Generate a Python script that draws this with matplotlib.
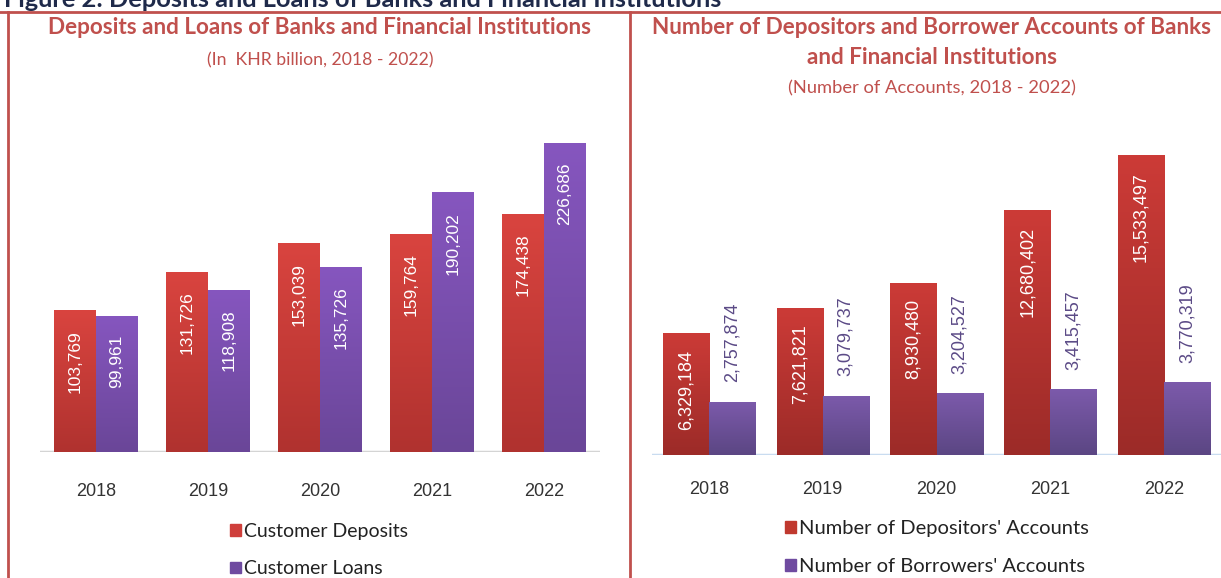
import numpy as np
import matplotlib
matplotlib.use('Agg')
import matplotlib.pyplot as plt
from matplotlib.colors import LinearSegmentedColormap
from matplotlib.patches import Patch
from matplotlib.lines import Line2D

# data
years = ['2018', '2019', '2020', '2021', '2022']
deposits = [103769, 131726, 153039, 159764, 174438]
loans = [99961, 118908, 135726, 190202, 226686]
dep_accounts = [6329184, 7621821, 8930480, 12680402, 15533497]
bor_accounts = [2757874, 3079737, 3204527, 3415457, 3770319]

W, H = 1221, 578
TITLE_RED = '#c0504d'
TITLE_FONT = ['Lato', 'DejaVu Sans']
NUM_FONT = ['Liberation Sans', 'DejaVu Sans']

fig = plt.figure(figsize=(W / 100, H / 100), dpi=100)


def px_axes(x0, y0, x1, y1):
    # pixel box (top-left origin) -> figure axes
    return fig.add_axes([x0 / W, 1 - y1 / H, (x1 - x0) / W, (y1 - y0) / H])


def ftext(x, y, s, **kw):
    fig.text(x / W, 1 - y / H, s, **kw)


def gradient_bars(ax, bars, top, bottom):
    cmap = LinearSegmentedColormap.from_list('g', [bottom, top])
    grad = np.linspace(0, 1, 256).reshape(-1, 1)
    for b in bars:
        x0, y0 = b.get_x(), b.get_y()
        im = ax.imshow(grad, extent=[x0, x0 + b.get_width(), y0, y0 + b.get_height()],
                       origin='lower', cmap=cmap, aspect='auto', zorder=2)
        im.set_clip_path(b)


def style_axes(ax, xlim, ylim, base_color, pad):
    ax.set_xlim(*xlim)
    ax.set_ylim(*ylim)
    for s in ax.spines.values():
        s.set_visible(False)
    ax.set_yticks([])
    ax.set_xticks(range(len(years)))
    ax.set_xticklabels(years, fontsize=13, color='#333333', family=NUM_FONT)
    ax.tick_params(axis='x', length=0, pad=pad)
    ax.axhline(0, color=base_color, lw=2.5, zorder=1)
    ax.patch.set_alpha(0)


x = np.arange(len(years))

# ---- left panel: deposits and loans
ax1 = px_axes(40, 100, 600, 452)
w1 = 0.375
b_dep = ax1.bar(x - w1 / 2, deposits, w1, color='#cf3f3b', zorder=2)
b_loan = ax1.bar(x + w1 / 2, loans, w1, color='#7a52ac', zorder=2)
gradient_bars(ax1, b_dep, '#d9443f', '#b0322f')
gradient_bars(ax1, b_loan, '#8656bf', '#6a4698')
style_axes(ax1, (-0.5, 4.5), (0, 258000), '#d4d4d4', 22)
for i in range(len(years)):
    ax1.annotate(f'{deposits[i]:,}', (x[i] - w1 / 2, deposits[i]), xytext=(0, -14),
                 textcoords='offset points', rotation=90, ha='center', va='top',
                 color='white', fontsize=12.5, family=NUM_FONT, zorder=3)
    ax1.annotate(f'{loans[i]:,}', (x[i] + w1 / 2, loans[i]), xytext=(0, -14),
                 textcoords='offset points', rotation=90, ha='center', va='top',
                 color='white', fontsize=12.5, family=NUM_FONT, zorder=3)

# ---- right panel: accounts
ax2 = px_axes(652, 100, 1221, 455)
w2 = 0.405
b_da = ax2.bar(x - w2 / 2, dep_accounts, w2, color='#b8342f', zorder=2)
b_ba = ax2.bar(x + w2 / 2, bor_accounts, w2, color='#6b4f9c', zorder=2)
gradient_bars(ax2, b_da, '#cc3b37', '#9c2b28')
gradient_bars(ax2, b_ba, '#7c5aab', '#5b4683')
style_axes(ax2, (-0.5, 4.5), (0, 18400000), '#c9dcf0', 19)
for i in range(len(years)):
    ax2.annotate(f'{dep_accounts[i]:,}', (x[i] - w2 / 2, dep_accounts[i]), xytext=(0, -12),
                 textcoords='offset points', rotation=90, ha='center', va='top',
                 color='white', fontsize=13, family=NUM_FONT, zorder=3)
    ax2.annotate(f'{bor_accounts[i]:,}', (x[i] + w2 / 2, bor_accounts[i]), xytext=(0, 14),
                 textcoords='offset points', rotation=90, ha='center', va='bottom',
                 color='#5b4a86', fontsize=13, family=NUM_FONT, zorder=3)

# ---- legends
leg_kw = dict(frameon=False, handlelength=0.55, handleheight=0.55, handletextpad=0.15,
              labelspacing=1.05, labelcolor='#222222', borderpad=0, borderaxespad=0)
fig.legend([Patch(color='#cf3f3b'), Patch(color='#6f4ba0')],
           ['Customer Deposits', 'Customer Loans'],
           loc='upper left', bbox_to_anchor=(230 / W, 1 - 523 / H),
           prop={'family': TITLE_FONT, 'size': 14}, **leg_kw)
fig.legend([Patch(color='#c0392f'), Patch(color='#6f4ba0')],
           ["Number of Depositors' Accounts", "Number of Borrowers' Accounts"],
           loc='upper left', bbox_to_anchor=(785 / W, 1 - 520 / H),
           prop={'family': TITLE_FONT, 'size': 14.5}, **leg_kw)

# ---- titles
ftext(320, 28, 'Deposits and Loans of Banks and Financial Institutions', ha='center',
      va='center', fontsize=16.2, fontweight='bold', color=TITLE_RED, family=TITLE_FONT)
ftext(320, 60, '(In  KHR billion, 2018 - 2022)', ha='center', va='center',
      fontsize=12.7, color=TITLE_RED, family=TITLE_FONT)
ftext(932, 28, 'Number of Depositors and Borrower Accounts of Banks', ha='center',
      va='center', fontsize=16.2, fontweight='bold', color=TITLE_RED, family=TITLE_FONT)
ftext(932, 57, 'and Financial Institutions', ha='center',
      va='center', fontsize=16.2, fontweight='bold', color=TITLE_RED, family=TITLE_FONT)
ftext(932, 88, '(Number of Accounts, 2018 - 2022)', ha='center', va='center',
      fontsize=13.2, color=TITLE_RED, family=TITLE_FONT)

# figure caption cut off at the top
ftext(4, 7, 'Figure 2: Deposits and Loans of Banks and Financial Institutions',
      ha='left', va='baseline', fontsize=18.3, fontweight='bold', color='#1f2a4a',
      family=TITLE_FONT)

# red frame lines
frame = dict(color=TITLE_RED, lw=2, transform=fig.transFigure)
fig.add_artist(Line2D([0, 1], [1 - 12 / H, 1 - 12 / H], **frame))
fig.add_artist(Line2D([8 / W, 8 / W], [0, 1 - 12 / H], **frame))
fig.add_artist(Line2D([630 / W, 630 / W], [0, 1 - 12 / H], **frame))

fig.savefig('out.png', dpi=100, facecolor='white')
